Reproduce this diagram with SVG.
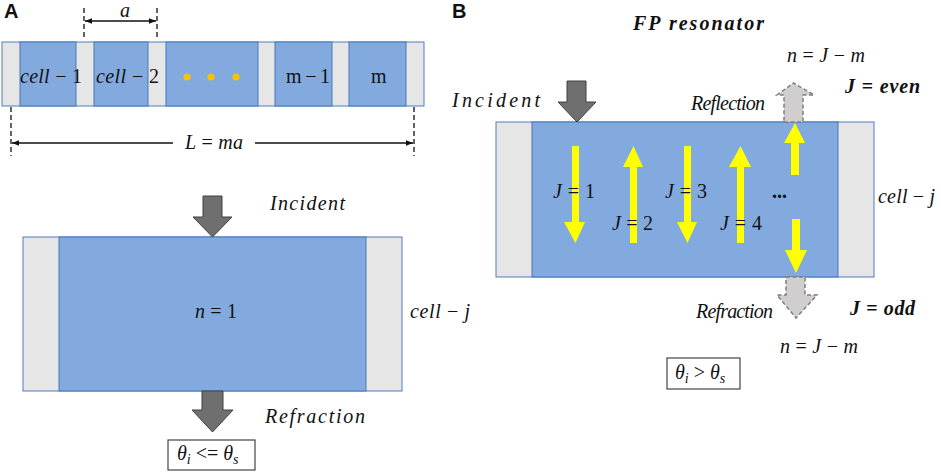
<svg xmlns="http://www.w3.org/2000/svg" width="941" height="472" viewBox="0 0 941 472">
<style>
.gray{fill:#e7e6e6;stroke:#4a7cc4;stroke-width:1}
.blue{fill:#82aadf;stroke:#3d6fb8;stroke-width:0.9}
.t{font-family:"Liberation Serif","Times New Roman",serif;font-size:20px;fill:#111}
.i{font-style:italic}
.b{font-weight:bold}
.lab{font-family:"Liberation Sans",Arial,sans-serif;font-weight:bold;font-size:20px;fill:#111}
.dash{stroke:#111;stroke-width:1.3;stroke-dasharray:5,3;fill:none}
.dim{stroke:#111;stroke-width:1.3;fill:none}
.dark{fill:#6f6f6f;stroke:#404040;stroke-width:1}
.light{fill:#d0cece;stroke:#7f7f7f;stroke-width:1.5;stroke-dasharray:4,2.5}
.yel{fill:#ffff00}
.box{fill:#fff;stroke:#444;stroke-width:1.2}
</style>
<defs>
<marker id="ah" viewBox="0 0 10 10" refX="10" refY="5" markerWidth="7" markerHeight="7" orient="auto-start-reverse" markerUnits="userSpaceOnUse">
<path d="M0,1 L10,5 L0,9 z" fill="#111"/>
</marker>
</defs>
<rect width="941" height="472" fill="#fff"/>

<text class="lab" x="4" y="18">A</text>
<text class="lab" x="452" y="18">B</text>

<!-- Panel A: periodic strip -->
<g id="strip">
<rect class="gray" x="2" y="42" width="422" height="64"/>
<rect class="blue" x="20" y="42" width="56" height="64"/>
<rect class="blue" x="94" y="42" width="54" height="64"/>
<rect class="blue" x="166" y="42" width="92" height="64"/>
<rect class="blue" x="275" y="42" width="57" height="64"/>
<rect class="blue" x="349" y="42" width="57" height="64"/>
<text class="t" x="20" y="83" textLength="62"><tspan class="i">cell</tspan> − 1</text>
<text class="t" x="96" y="83" textLength="63"><tspan class="i">cell</tspan> − 2</text>
<circle cx="187" cy="77" r="3.6" fill="#ffc000"/>
<circle cx="211" cy="77" r="3.6" fill="#ffc000"/>
<circle cx="236" cy="77" r="3.6" fill="#ffc000"/>
<text class="t" x="286" y="83" textLength="44">m − 1</text>
<text class="t" x="371" y="83">m</text>
</g>

<!-- Panel A: single cell -->
<g id="cellA">
<rect class="gray" x="23" y="237" width="379" height="154"/>
<rect class="blue" x="59" y="237" width="307" height="154"/>
</g>

<!-- Panel B cell -->
<g id="cellB">
<rect class="gray" x="496" y="122" width="378" height="155"/>
<rect class="blue" x="532" y="122" width="306" height="155"/>
</g>

<g id="connectors">
<!-- dimension a -->
<line class="dash" x1="84" y1="8" x2="84" y2="38"/>
<line class="dash" x1="157" y1="8" x2="157" y2="38"/>
<line class="dim" x1="85" y1="21" x2="156" y2="21" marker-start="url(#ah)" marker-end="url(#ah)"/>
<!-- dimension L -->
<line class="dash" x1="11" y1="107" x2="11" y2="156"/>
<line class="dash" x1="414" y1="107" x2="414" y2="156"/>
<line class="dim" x1="12" y1="143" x2="173" y2="143" marker-start="url(#ah)"/>
<line class="dim" x1="255" y1="143" x2="413" y2="143" marker-end="url(#ah)"/>
<!-- panel A arrows -->
<polygon class="dark" points="203,196 222,196 222,217 232,217 212.5,237 193,217 203,217"/>
<polygon class="dark" points="202,391 223,391 223,410 233,410 212.5,432 192,410 202,410"/>
<!-- panel B arrows -->
<polygon class="dark" points="567,81 586,81 586,102 596,102 577,122 558,102 567,102"/>
<polygon class="light" points="784,122 803,122 803,95 814,95 793.5,83 777,95 784,95"/>
<polygon class="light" points="786,277 805,277 805,295 817,295 796,318 777,295 786,295"/>
<!-- yellow standing-wave arrows -->
<polygon class="yel" points="572,146 579,146 579,222 585,222 575.5,243 564,222 572,222"/>
<polygon class="yel" points="630,243 637,243 637,167 643,167 633.5,146 623,167 630,167"/>
<polygon class="yel" points="684,146 691,146 691,222 697,222 687.5,243 677,222 684,222"/>
<polygon class="yel" points="737,243 744,243 744,167 751,167 740.5,146 729,167 737,167"/>
<polygon class="yel" points="791,175 799,175 799,143 805,143 795,123 784,143 791,143"/>
<polygon class="yel" points="792,219 800,219 800,250 807,250 796,273 785,250 792,250"/>
</g>

<g id="labels">
<text class="t i" x="120" y="17" font-size="15">a</text>
<text class="t" x="185" y="149" textLength="58"><tspan class="i">L</tspan> = <tspan class="i">ma</tspan></text>
<text class="t" x="195" y="318" textLength="42"><tspan class="i">n</tspan> = 1</text>
<text class="t i" x="410" y="318" textLength="60">cell <tspan font-style="normal">−</tspan> j</text>
<text class="t i" x="270" y="210" textLength="75">Incident</text>
<text class="t i" x="265" y="423" textLength="100">Refraction</text>
<text class="t i b" x="633" y="30" textLength="131" font-size="22">FP resonator</text>
<text class="t" x="553" y="198" textLength="42" font-size="19"><tspan class="i">J</tspan> = 1</text>
<text class="t" x="612" y="230" textLength="41" font-size="19"><tspan class="i">J</tspan> = 2</text>
<text class="t" x="665" y="198" textLength="42" font-size="19"><tspan class="i">J</tspan> = 3</text>
<text class="t" x="720" y="230" textLength="42" font-size="19"><tspan class="i">J</tspan> = 4</text>
<text class="t b" x="772" y="198" font-size="16">...</text>
<text class="t i" x="878" y="203" textLength="57" font-size="19">cell <tspan font-style="normal">−</tspan> j</text>
<text class="t i" x="452" y="107" textLength="88" font-size="21">Incident</text>
<text class="t i" x="691" y="110" textLength="74" font-size="16">Reflection</text>
<text class="t i" x="696" y="318" textLength="77" font-size="16">Refraction</text>
<text class="t" x="787" y="62" textLength="78" font-size="19"><tspan class="i">n</tspan> = <tspan class="i">J</tspan> − <tspan class="i">m</tspan></text>
<text class="t" x="780" y="353" textLength="78" font-size="19"><tspan class="i">n</tspan> = <tspan class="i">J</tspan> − <tspan class="i">m</tspan></text>
<text class="t b i" x="845" y="93" textLength="75" font-size="19">J <tspan font-style="normal">=</tspan> even</text>
<text class="t b i" x="850" y="315" textLength="65" font-size="19">J <tspan font-style="normal">=</tspan> odd</text>
</g>

<g id="condA">
<rect class="box" x="168" y="440" width="87" height="30"/>
<text class="t" x="177" y="460" font-size="21"><tspan class="i">θ</tspan><tspan class="i" font-size="14" dy="4">i</tspan><tspan dy="-4"> &lt;= </tspan><tspan class="i">θ</tspan><tspan class="i" font-size="14" dy="4">s</tspan></text>
</g>
<g id="condB">
<rect class="box" x="667" y="358" width="73" height="31"/>
<text class="t" x="675" y="379" font-size="21"><tspan class="i">θ</tspan><tspan class="i" font-size="14" dy="4">i</tspan><tspan dy="-4"> &gt; </tspan><tspan class="i">θ</tspan><tspan class="i" font-size="14" dy="4">s</tspan></text>
</g>
</svg>
